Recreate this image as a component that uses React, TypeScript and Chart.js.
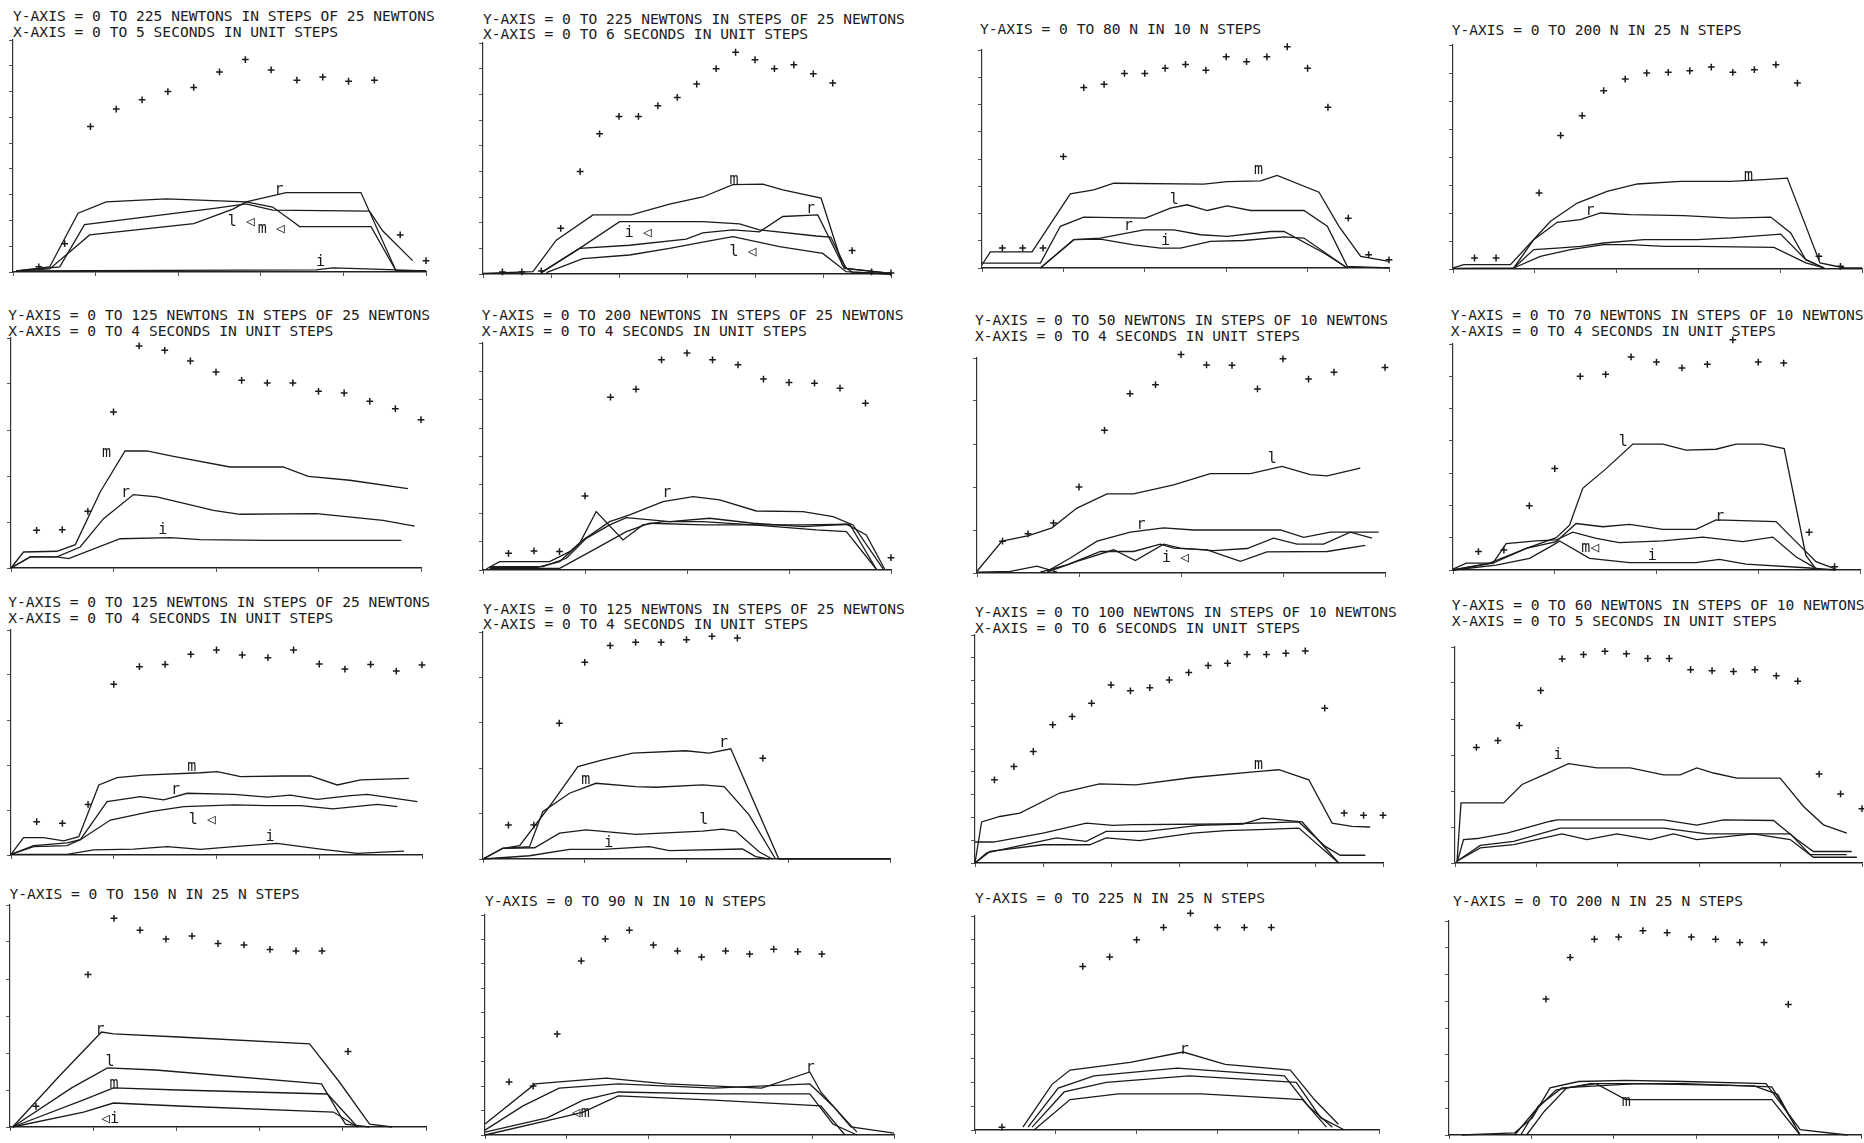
import React, { useEffect, useRef } from "react";
import { Chart, registerables } from "chart.js";
Chart.register(...registerables);

type Pt = [number, number];
type Lbl = { x: number; y: number; text: string };

// x values are sample intervals of the force trace (F "+" marks); y values in newtons.

// ---------- Panel 1 ----------
const p1Title = ["Y-AXIS = 0 TO 225 NEWTONS IN STEPS OF 25 NEWTONS", "X-AXIS = 0 TO 5 SECONDS IN UNIT STEPS"];
const p1Force = [5, 27.5, 141, 158, 167, 175, 179, 194, 206, 196, 186, 189, 185, 186, 36, 11];
const p1M: Pt[] = [[0.13, 1], [1.42, 4.9], [2.52, 57], [3.61, 68], [5.94, 71], [9.03, 68], [10.06, 63], [10.84, 49], [11.1, 44], [13.87, 44], [14.84, 1], [16, 1]];
const p1L: Pt[] = [[0.13, 1], [1.81, 5], [2.77, 46], [7.87, 62], [9.03, 66], [10.06, 60], [13.81, 59], [14.32, 40], [15.48, 11]];
const p1R: Pt[] = [[0.13, 1], [1.42, 3], [2.97, 36], [7.0, 47], [8.52, 61], [9.03, 68], [10.58, 77], [13.48, 77], [14.84, 1], [16, 1]];
const p1I: Pt[] = [[0.13, 1], [11.74, 2], [12.39, 4], [13.68, 3], [16, 1]];
const p1Labels: Lbl[] = [{ x: 10.13, y: 79, text: "r" }, { x: 8.32, y: 48.6, text: "l ◁" }, { x: 9.48, y: 42, text: "m ◁" }, { x: 11.74, y: 9.7, text: "i" }];

// ---------- Panel 2 ----------
const p2Title = ["Y-AXIS = 0 TO 225 NEWTONS IN STEPS OF 25 NEWTONS", "X-AXIS = 0 TO 6 SECONDS IN UNIT STEPS"];
const p2Force = [2, 2, 3, 44.5, 99.8, 136.5, 153.5, 153.5, 163.9, 172, 185, 200, 216, 208.7, 200, 203.8, 195, 186, 22.8, 2, 1];
const p2M: Pt[] = [[0, 0.5], [2.57, 2.3], [3.77, 33], [5.66, 57.5], [7.63, 57.5], [9.6, 68], [11.31, 75], [12.86, 87], [14.4, 87.5], [15.43, 82], [17.4, 74], [18.5, 9], [19.03, 1.3], [21, 0]];
const p2I: Pt[] = [[3, 1.3], [4.97, 25], [7.03, 51], [11.31, 51], [13.2, 48.8], [14.23, 43], [17.14, 37], [17.9, 36], [18.69, 5.5], [21, 0.7]];
const p2R: Pt[] = [[3, 1.3], [4.97, 25], [7.54, 28], [10.46, 34], [11.31, 40], [12.86, 43], [14.23, 41], [15.43, 56], [17.23, 57.5], [18.6, 5.5], [21, 0.7]];
const p2L: Pt[] = [[3.26, 1.3], [5.14, 15], [7.54, 18.5], [9.6, 25], [11.31, 31], [12.86, 36.4], [15.26, 26.7], [17.49, 20], [18.69, 2.3], [21, 0]];
const p2Labels: Lbl[] = [{ x: 12.69, y: 91.7, text: "m" }, { x: 7.29, y: 39.7, text: "i ◁" }, { x: 16.63, y: 63, text: "r" }, { x: 12.69, y: 21.8, text: "l ◁" }];

// ---------- Panel 3 ----------
const p3Title = ["Y-AXIS = 0 TO 80 N IN 10 N STEPS"];
const p3Force = [7.3, 7.3, 7.3, 40.9, 66.2, 67.4, 71.4, 71.4, 73.3, 74.7, 72.6, 77.5, 75.7, 77.5, 81.2, 73.3, 59, 18.3, 4.9, 3];
const p3M: Pt[] = [[0, 1.2], [0.41, 5.9], [2.46, 5.9], [4.34, 27.2], [5.49, 28.7], [6.48, 31.1], [10.9, 30.8], [12.05, 31.7], [13.69, 32], [14.5, 34], [16.56, 27.8], [17.54, 15.3], [18.61, 4.3], [20, 2.4]];
const p3L: Pt[] = [[0, 1.8], [2.87, 1.8], [3.85, 15.3], [5, 18.7], [8.03, 18.3], [9.26, 22], [10.08, 23.2], [11.07, 21.1], [12.05, 22.8], [13.2, 21.1], [15.82, 21.1], [16.97, 15.3], [17.95, 0.6], [20, 0]];
const p3R: Pt[] = [[2.87, 0], [4.51, 10.4], [5.82, 11], [7.95, 14], [9.43, 14], [10.74, 12.2], [12.05, 11.6], [14.18, 13.4], [14.84, 13.4], [16.8, 5.5], [17.95, 0]];
const p3I: Pt[] = [[2.87, 0], [4.51, 10.4], [5.82, 10.6], [7.46, 8.5], [8.77, 7.3], [9.75, 7.3], [11.23, 9.8], [12.87, 10.1], [14.84, 11.4], [15.82, 11], [17.95, 0]];
const p3Labels: Lbl[] = [{ x: 13.36, y: 35.8, text: "m" }, { x: 9.23, y: 25, text: "l" }, { x: 6.97, y: 15.3, text: "r" }, { x: 8.8, y: 9.8, text: "i" }];

// ---------- Panel 4 ----------
const p4Title = ["Y-AXIS = 0 TO 200 N IN 25 N STEPS"];
const p4Force = [9.8, 9.8, null, 67.9, 119.3, 136.9, 159.2, 169.6, 175, 175.6, 177, 180.3, 175.6, 178, 182.4, 166, 11.3, 2.4];
const p4M: Pt[] = [[0, 0.9], [0.5, 3.9], [2.67, 3.9], [3.6, 23.2], [4.53, 42.6], [5.77, 58.9], [7.16, 69.3], [8.56, 75.9], [10.57, 78.3], [12.9, 78.3], [14.45, 79.8], [15.53, 81.2], [17.05, 5.4], [18.2, 0.9], [19, 0.9]];
const p4R: Pt[] = [[0, 0.5], [2.82, 0.9], [3.75, 26.2], [4.84, 41.7], [5.92, 44], [6.85, 50], [8.25, 48.5], [10.73, 47.6], [12.9, 45.5], [14.76, 46.4], [15.69, 32.1], [16.39, 8.3], [17.24, 0.9]];
const p4I: Pt[] = [[2.82, 0.9], [3.75, 17.3], [4.84, 18.7], [5.92, 20.2], [7.01, 23.2], [8.87, 26.2], [11.35, 26.2], [12.9, 27.7], [15.22, 31.2], [16.39, 8.3], [17.24, 0.9]];
const p4L: Pt[] = [[2.82, 0.9], [4.06, 11.3], [5.46, 17.3], [7.01, 21.7], [8.25, 21.7], [9.8, 20.2], [11.35, 20.2], [14.91, 19.3], [16.39, 5.4], [17.24, 0.9]];
const p4Labels: Lbl[] = [{ x: 13.52, y: 82.7, text: "m" }, { x: 6.16, y: 51.5, text: "r" }];

// ---------- Panel 5 ----------
const p5Title = ["Y-AXIS = 0 TO 125 NEWTONS IN STEPS OF 25 NEWTONS", "X-AXIS = 0 TO 4 SECONDS IN UNIT STEPS"];
const p5Force = [20.5, 20.8, 30.8, 84.8, 120.7, 118.3, 112.5, 106.5, 102, 100.6, 100.6, 96, 95.1, 90.6, 86.6, 80.6];
const p5M: Pt[] = [[0, 0], [0.49, 8.7], [1.79, 9.1], [2.51, 12.7], [3.48, 41.3], [4.45, 63.6], [5.3, 63.6], [6.34, 60.7], [8.55, 54.9], [10.62, 54.9], [11.6, 49.8], [13.22, 47.7], [15.49, 43.1]];
const p5R: Pt[] = [[0, 0], [0.75, 6], [1.79, 6], [2.7, 11.4], [3.61, 26.8], [4.78, 39.9], [5.69, 38.6], [7.9, 31.3], [8.94, 29.2], [11.92, 29.5], [14.52, 25.9], [15.75, 22.8]];
const p5I: Pt[] = [[0, 0], [0.75, 6], [1.79, 6], [2.25, 5.1], [4.26, 15.9], [6.21, 16.5], [7.38, 15.4], [9.97, 15], [15.23, 15]];
const p5Labels: Lbl[] = [{ x: 3.55, y: 62.7, text: "m" }, { x: 4.29, y: 40.8, text: "r" }, { x: 5.75, y: 20.5, text: "i" }];

// ---------- Panel 6 ----------
const p6Title = ["Y-AXIS = 0 TO 200 NEWTONS IN STEPS OF 25 NEWTONS", "X-AXIS = 0 TO 4 SECONDS IN UNIT STEPS"];
const p6Force = [14.7, 16.8, 16.2, 65.3, 152.3, 159.3, 185.2, 191.1, 185.2, 180.8, 168.2, 165.2, 164.6, 160.2, 147, 10.9];
const p6R: Pt[] = [[0.13, 0.9], [0.65, 7.4], [2.61, 7.4], [3.4, 16.2], [3.92, 26.5], [4.97, 42.6], [5.75, 48.5], [7.06, 60.3], [8.24, 64.7], [9.28, 61.7], [10.72, 52], [12.55, 51.5], [13.73, 47], [14.51, 39.7], [15.69, 0.9]];
const p6A: Pt[] = [[0.26, 2.1], [2.09, 2.1], [3.01, 7.4], [3.79, 23.5], [4.44, 51.5], [5.49, 26.5], [6.27, 39.7], [7.06, 42.6], [8.63, 42.6], [10.59, 39.7], [12.55, 39.7], [14.38, 40.3], [15.42, 0.9]];
const p6B: Pt[] = [[0.26, 2.9], [2.35, 2.9], [3.27, 10.3], [4.05, 27.9], [4.97, 39.7], [5.62, 46.2], [7.32, 42.6], [8.89, 45.6], [10.59, 41.2], [12.55, 38.2], [14.25, 40.3], [15.03, 30.9], [15.75, 0.9]];
const p6C: Pt[] = [[0.26, 1.5], [3.01, 1.5], [4.44, 19.1], [5.62, 33.8], [6.54, 41.2], [8.63, 39.7], [10.59, 39.7], [13.07, 35.3], [14.25, 33.8], [15.42, 0.9]];
const p6Labels: Lbl[] = [{ x: 7.03, y: 67.6, text: "r" }];

// ---------- Panel 7 ----------
const p7Title = ["Y-AXIS = 0 TO 50 NEWTONS IN STEPS OF 10 NEWTONS", "X-AXIS = 0 TO 4 SECONDS IN UNIT STEPS"];
const p7Force = [7.4, 9.1, 11.6, 20, 33.2, 41.7, 43.8, 50.8, 48.4, 48.3, 42.8, 49.8, 45.1, 46.7, 51.3, 47.8];
const p7L: Pt[] = [[0, 0.4], [0.98, 7.4], [2.03, 8.7], [2.94, 10.5], [3.92, 15.1], [5.1, 18.4], [6.14, 18.4], [7.71, 20.5], [9.15, 23.1], [10.72, 23.1], [11.96, 24.8], [13.07, 22.9], [13.73, 22.6], [15.03, 24.4]];
const p7R: Pt[] = [[2.75, 0.4], [3.66, 3.5], [4.71, 7.4], [6.01, 9.5], [7.32, 10.5], [8.5, 10], [11.9, 10], [12.81, 8.3], [13.86, 9.5], [15.75, 9.5]];
const p7B: Pt[] = [[2.75, 0.2], [3.92, 2.7], [5.36, 5.4], [6.21, 2.9], [7.32, 6.7], [7.97, 5.8], [9.28, 5.2], [10.59, 5.7], [11.63, 8.1], [12.55, 6.7], [13.59, 6.7], [14.64, 9.5], [15.49, 8.1]];
const p7I: Pt[] = [[2.48, 0.2], [3.53, 1.9], [4.84, 5], [6.14, 5], [7.19, 6.7], [7.71, 5.8], [9.02, 5.4], [10.33, 2.7], [11.37, 4.9], [13.73, 5], [15.23, 6.4]];
const p7D: Pt[] = [[0, 0.2], [1.31, 0.4], [2.35, 1.6], [3.14, 0.2]];
const p7Labels: Lbl[] = [{ x: 11.4, y: 26.4, text: "l" }, { x: 6.25, y: 11.2, text: "r" }, { x: 7.25, y: 3.5, text: "i ◁" }];

// ---------- Panel 8 ----------
const p8Title = ["Y-AXIS = 0 TO 70 NEWTONS IN STEPS OF 10 NEWTONS", "X-AXIS = 0 TO 4 SECONDS IN UNIT STEPS"];
const p8Force = [5.7, 6.2, 19.9, 31.4, 60, 60.6, 66, 64.4, 62.6, 63.7, 71.3, 64.4, 64.1, 11.7, 1];
const p8L: Pt[] = [[0, 0], [1.57, 2.1], [2.88, 6.7], [4.06, 10], [4.58, 13.9], [5.1, 25.3], [6.02, 31.4], [7.07, 39], [8.25, 39], [9.16, 37.1], [10.34, 37.4], [11.13, 39], [12.17, 39], [13.02, 37.6], [13.87, 4.6], [14.27, 0.3]];
const p8R: Pt[] = [[0, 0], [1.44, 2.1], [2.88, 6.7], [4.06, 8.8], [4.84, 14.4], [5.89, 13.4], [6.94, 14.1], [8.25, 12.6], [9.55, 12.6], [10.34, 15.5], [12.7, 15], [13.48, 8.8], [14.27, 2.6], [15.05, 0.3]];
const p8M: Pt[] = [[0, 0.3], [0.52, 2.1], [1.57, 2.1], [2.09, 8.2], [3.27, 9], [4.06, 9.3], [4.71, 11.7], [5.63, 9.8], [6.54, 8.5], [8.25, 9], [9.82, 10.2], [11.39, 8.8], [12.57, 10.2], [13.48, 4.1], [14.27, 0.5]];
const p8I: Pt[] = [[0, 0], [1.7, 1.5], [3.01, 3.6], [3.93, 7.7], [4.19, 9], [5.37, 3.6], [6.94, 2.3], [9.55, 2.3], [10.47, 3.3], [11.52, 1.8], [13.87, 0.7], [15.05, 0]];
const p8Labels: Lbl[] = [{ x: 6.52, y: 39.7, text: "l" }, { x: 10.31, y: 16.5, text: "r" }, { x: 5.04, y: 6.7, text: "m◁" }, { x: 7.66, y: 4.4, text: "i" }];

// ---------- Panel 9 ----------
const p9Title = ["Y-AXIS = 0 TO 125 NEWTONS IN STEPS OF 25 NEWTONS", "X-AXIS = 0 TO 4 SECONDS IN UNIT STEPS"];
const p9Force = [18.5, 17.6, 28.1, 94.8, 104.6, 105.9, 111.5, 113.9, 111.1, 109.6, 113.9, 106.1, 103.3, 105.9, 102.2, 105.6];
const p9M: Pt[] = [[0, 0.4], [0.49, 9.6], [1.27, 9.6], [2.05, 7.8], [2.64, 10.2], [3.42, 38.9], [4.13, 43], [5.17, 44.4], [7.38, 45.7], [8.03, 46.3], [8.94, 43.5], [10.62, 43.9], [11.66, 43.9], [12.7, 38.9], [13.61, 41.7], [15.49, 42.6]];
const p9R: Pt[] = [[0, 0.4], [0.88, 5.2], [2.18, 6.7], [2.7, 8.5], [3.74, 29.6], [5.04, 32.4], [5.95, 30.6], [6.86, 34.3], [8.68, 33.7], [9.97, 32.2], [10.88, 33.3], [11.92, 30.9], [13.22, 33], [13.87, 33.7], [15.82, 29.6]];
const p9L: Pt[] = [[0, 0.4], [0.88, 4.6], [2.18, 5.2], [2.7, 8.5], [3.87, 19.4], [5.43, 24.1], [6.73, 26.9], [8.68, 27.8], [9.97, 27.4], [11.27, 27.4], [12.53, 25.6], [14.26, 28.1], [15.04, 26.9]];
const p9I: Pt[] = [[0, 0.4], [2.18, 0.4], [3.22, 2.8], [4.78, 3.3], [6.08, 4.6], [7.38, 3.1], [8.68, 4.6], [10.36, 6.5], [12.05, 3.3], [13.48, 0.9], [15.3, 2.2]];
const p9Labels: Lbl[] = [{ x: 6.86, y: 49, text: "m" }, { x: 6.23, y: 36.1, text: "r" }, { x: 6.92, y: 19.4, text: "l ◁" }, { x: 9.91, y: 10.2, text: "i" }];

// ---------- Panel 10 ----------
const p10Title = ["Y-AXIS = 0 TO 125 NEWTONS IN STEPS OF 25 NEWTONS", "X-AXIS = 0 TO 4 SECONDS IN UNIT STEPS"];
const p10Force = [18.7, 18.7, 74.8, 108.3, 117.5, 119.3, 119.3, 120.8, 122.6, 121.7, 55.5];
const p10R: Pt[] = [[0, 0], [0.78, 5.9], [1.44, 7.4], [2.61, 28.9], [3.73, 50.9], [4.71, 54.6], [5.88, 58.3], [7.97, 59.6], [8.89, 58.3], [9.74, 60.7], [11.63, 0], [16, 0]];
const p10M: Pt[] = [[0, 0], [0.78, 5.9], [1.83, 6.8], [2.35, 26.1], [3.4, 36.2], [4.44, 41.7], [6.01, 39.9], [6.8, 39.5], [8.63, 40.8], [9.48, 39.9], [10.46, 24.3], [11.5, 0]];
const p10L: Pt[] = [[0, 0], [0.78, 5.9], [2.03, 6.2], [3.01, 14.2], [4.05, 16], [6.01, 13.6], [8.63, 15.4], [9.41, 16.5], [9.93, 15.4], [10.85, 4], [11.37, 0]];
const p10I: Pt[] = [[0, 0], [1.83, 1.8], [3.4, 5.3], [4.71, 5.3], [6.54, 6.8], [7.32, 4.6], [10.2, 5.5], [10.72, 1.3], [11.24, 0]];
const p10Labels: Lbl[] = [{ x: 9.28, y: 63.8, text: "r" }, { x: 3.86, y: 43.6, text: "m" }, { x: 8.5, y: 21.5, text: "l" }, { x: 4.77, y: 8.6, text: "i" }];

// ---------- Panel 11 ----------
const p11Title = ["Y-AXIS = 0 TO 100 NEWTONS IN STEPS OF 10 NEWTONS", "X-AXIS = 0 TO 6 SECONDS IN UNIT STEPS"];
const p11Force = [36.5, 42.3, 48.9, 60.6, 64.2, 70.1, 78.1, 75.5, 76.9, 80.3, 83.5, 86.6, 87.6, 91.5, 91.5, 92, 93, 67.9, 21.9, 20.9, 20.9];
const p11M: Pt[] = [[0, 0], [0.34, 18], [1.28, 20.4], [2.31, 21.9], [4.36, 30.7], [6.41, 34.7], [8.29, 34.3], [11.2, 37.5], [14.62, 40.2], [15.64, 40.9], [17.18, 36.5], [18.38, 17.5], [19.4, 16.1], [20.34, 15.8]];
const p11A: Pt[] = [[0, 9.2], [0.94, 9.2], [3.5, 13.1], [5.73, 17.5], [7.09, 16.5], [8.12, 16.8], [12.91, 17.1], [16.67, 18], [18.03, 7.3], [18.8, 3.4], [20.09, 3.4]];
const p11B: Pt[] = [[0, 0], [0.6, 4.4], [2.99, 8.8], [4.19, 11], [5.73, 9.5], [6.75, 13.9], [8.8, 13.9], [11.54, 16.5], [13.76, 17.1], [14.79, 19.7], [16.84, 18], [18.72, 0]];
const p11C: Pt[] = [[0, 0], [0.77, 5.1], [3.5, 8], [5.9, 8], [6.75, 11], [8.46, 9.8], [11.2, 13.1], [12.91, 14.2], [14.62, 14.6], [16.67, 15.3], [18.72, 0]];
const p11Labels: Lbl[] = [{ x: 14.36, y: 43.1, text: "m" }];

// ---------- Panel 12 ----------
const p12Title = ["Y-AXIS = 0 TO 60 NEWTONS IN STEPS OF 10 NEWTONS", "X-AXIS = 0 TO 5 SECONDS IN UNIT STEPS"];
const p12Force = [32.1, 34, 38.2, 47.9, 56.7, 57.9, 58.8, 58.1, 56.8, 56.8, 53.7, 53.4, 53.2, 53.7, 52, 50.5, 24.7, 19.2, 15.1];
const p12I: Pt[] = [[0.09, 0], [0.28, 16.7], [2.27, 16.7], [3.13, 21.8], [4.14, 24.5], [5.3, 27.6], [6.63, 26.4], [8.18, 26.4], [9.74, 24.5], [10.51, 24.5], [11.29, 26.4], [12.07, 25], [13.16, 23.6], [15.18, 23.6], [16.27, 15.7], [17.2, 10.6], [18.29, 8.3]];
const p12A: Pt[] = [[0.09, 0], [0.4, 6.5], [1.03, 6.8], [2.43, 8.3], [4.45, 11.6], [4.76, 12], [9.74, 12], [11.29, 10.5], [12.53, 12], [14.87, 11.8], [15.96, 6.5], [16.73, 3.2], [18.52, 3.2]];
const p12B: Pt[] = [[0.09, 0.5], [1.18, 4.9], [2.74, 6], [4.91, 9.7], [9.74, 9.7], [11.76, 8.1], [15.65, 8.1], [16.58, 2.3], [18.29, 2.3]];
const p12C: Pt[] = [[0.09, 0.5], [1.18, 4.2], [2.74, 5.1], [4.99, 8.1], [6.16, 6.5], [7.56, 8.1], [9.11, 6.5], [10.2, 8.1], [11.29, 6.5], [13.93, 8.1], [15.65, 6.5], [16.73, 1.6], [18.76, 1.6]];
const p12Labels: Lbl[] = [{ x: 4.6, y: 30.1, text: "i" }];

// ---------- Panel 13 ----------
const p13Title = ["Y-AXIS = 0 TO 150 N IN 25 N STEPS"];
const p13Force = [14, null, 103, 141, 133, 127, 129, 124, 123, 120, 119, 119, 51];
const p13R: Pt[] = [[0.1, 0], [1.9, 34.5], [3.52, 64.2], [3.98, 62.9], [6.48, 60.8], [11.52, 56.1], [12.67, 30.4], [13.83, 2], [14.7, 0]];
const p13L: Pt[] = [[0.1, 0], [2.37, 26.4], [3.75, 39.9], [5.6, 38.5], [11.98, 29.1], [12.9, 2], [13.83, 0]];
const p13M: Pt[] = [[0.1, 0], [2.83, 18.3], [3.98, 26.4], [6.48, 25], [12.21, 22.3], [13.37, 0]];
const p13I: Pt[] = [[0.1, 0], [2.83, 10.1], [3.98, 16.2], [6.48, 14.2], [12.44, 10.1], [13.37, 0]];
const p13Labels: Lbl[] = [{ x: 3.29, y: 65.6, text: "r" }, { x: 3.67, y: 44, text: "l" }, { x: 3.83, y: 29, text: "m" }, { x: 3.5, y: 5, text: "◁i" }];

// ---------- Panel 14 ----------
const p14Title = ["Y-AXIS = 0 TO 90 N IN 10 N STEPS"];
const p14Force = [21.7, 20, 41.3, 71.2, 80.2, 83.8, 77.7, 75.3, 72.8, 75.3, 74, 76, 75, 74];
const p14R: Pt[] = [[0, 4.5], [2.08, 20.9], [3.08, 21.7], [5.04, 23.3], [7.54, 20.9], [11.5, 19.2], [13.5, 25.8], [13.96, 17.6], [15.21, 3.3], [17, 0.8]];
const p14A: Pt[] = [[0, 2], [1.58, 11.9], [3.08, 19.2], [5.54, 20.9], [9.5, 19.2], [13.5, 20.9], [14.46, 11.9], [15.46, 1.2]];
const p14B: Pt[] = [[0, 1.2], [2.58, 7], [4.08, 14.3], [5.54, 17.6], [9.5, 16.8], [13.5, 16.8], [14.46, 4.5], [15.46, 0]];
const p14M: Pt[] = [[0, 0], [3.08, 7], [4.08, 9.4], [5.54, 16], [9.5, 14.3], [13.96, 11.9], [14.96, 0]];
const p14Labels: Lbl[] = [{ x: 13.33, y: 27.5, text: "r" }, { x: 3.6, y: 9, text: "◁m" }];

// ---------- Panel 15 ----------
const p15Title = ["Y-AXIS = 0 TO 225 N IN 25 N STEPS"];
const p15Force = [3, null, null, 172, 182, 200, 213, 228, 213, 213, 213];
const p15R: Pt[] = [[1.78, 3], [2.86, 48], [3.53, 63], [5.76, 71], [7.73, 82], [9.29, 69], [11.71, 63], [12.6, 32], [13.49, 6]];
const p15A: Pt[] = [[1.97, 3], [3.09, 44], [4.42, 57], [7.51, 65], [11.49, 57], [12.38, 25], [13.27, 3]];
const p15B: Pt[] = [[2.12, 3], [3.31, 40], [4.87, 50], [7.96, 57], [11.93, 50], [12.83, 13], [13.72, 0]];
const p15C: Pt[] = [[2.19, 0], [3.53, 32], [5.32, 38], [8.4, 38], [12.16, 32], [13.05, 3]];
const p15Labels: Lbl[] = [{ x: 7.6, y: 84, text: "r" }];

// ---------- Panel 16 ----------
const p16Title = ["Y-AXIS = 0 TO 200 N IN 25 N STEPS"];
const p16Force = [null, null, null, 127, 166, 183, 185, 191, 189, 185, 183, 180, 180, 122];
const p16A: Pt[] = [[0.53, 0], [2.71, 2], [3.44, 16], [4.17, 44], [5.34, 50], [7.29, 51], [9.68, 50], [13.08, 48], [13.77, 27], [14.49, 5], [16.44, 0]];
const p16B: Pt[] = [[2.71, 0], [3.52, 22], [4.41, 42], [5.83, 48], [9.68, 48], [13.32, 45], [14.25, 10]];
const p16C: Pt[] = [[2.96, 0], [3.68, 27], [4.66, 44], [7.77, 48], [12.59, 46], [13.56, 38], [14.49, 0]];
const p16M: Pt[] = [[3.2, 0], [3.93, 22], [4.86, 44], [6.07, 48], [7.29, 33], [13.32, 33], [14.49, 0]];
const p16Labels: Lbl[] = [{ x: 7.13, y: 31, text: "m" }];

type PanelDef = {
  title: string[]; yMax: number; yStep: number; n: number; secs: number;
  force: (number | null)[]; lines: Pt[][]; labels: Lbl[];
  box: { x0: number; xR: number; yT: number; yB: number; tTop: number; tLeft: number };
};

const panels: PanelDef[] = [
  { title: p1Title, yMax: 225, yStep: 25, n: 16, secs: 5, force: p1Force, lines: [p1M, p1L, p1R, p1I], labels: p1Labels, box: { x0: 13.3, xR: 426.7, yT: 40, yB: 271.7, tTop: 8, tLeft: 13 } },
  { title: p2Title, yMax: 225, yStep: 25, n: 21, secs: 6, force: p2Force, lines: [p2M, p2I, p2R, p2L], labels: p2Labels, box: { x0: 483.3, xR: 891.7, yT: 43.3, yB: 274, tTop: 10.5, tLeft: 483 } },
  { title: p3Title, yMax: 80, yStep: 10, n: 20, secs: 5, force: p3Force, lines: [p3M, p3L, p3R, p3I], labels: p3Labels, box: { x0: 981.7, xR: 1388.3, yT: 50, yB: 268.3, tTop: 21, tLeft: 980 } },
  { title: p4Title, yMax: 200, yStep: 25, n: 19, secs: 5, force: p4Force, lines: [p4M, p4R, p4I, p4L], labels: p4Labels, box: { x0: 1452.7, xR: 1861.2, yT: 45.3, yB: 269.3, tTop: 21.5, tLeft: 1451.7 } },
  { title: p5Title, yMax: 125, yStep: 25, n: 16, secs: 4, force: p5Force, lines: [p5M, p5R, p5I], labels: p5Labels, box: { x0: 10.7, xR: 420.7, yT: 337.7, yB: 567.7, tTop: 307, tLeft: 8.3 } },
  { title: p6Title, yMax: 200, yStep: 25, n: 16, secs: 4, force: p6Force, lines: [p6R, p6A, p6B, p6C], labels: p6Labels, box: { x0: 483.3, xR: 891.7, yT: 343.3, yB: 570, tTop: 307, tLeft: 481.7 } },
  { title: p7Title, yMax: 50, yStep: 10, n: 16, secs: 4, force: p7Force, lines: [p7L, p7R, p7B, p7I, p7D], labels: p7Labels, box: { x0: 976.7, xR: 1384.7, yT: 358.3, yB: 573.3, tTop: 312, tLeft: 975 } },
  { title: p8Title, yMax: 70, yStep: 10, n: 16, secs: 4, force: p8Force, lines: [p8L, p8R, p8M, p8I], labels: p8Labels, box: { x0: 1453.3, xR: 1860, yT: 343.7, yB: 570, tTop: 307, tLeft: 1450.7 } },
  { title: p9Title, yMax: 125, yStep: 25, n: 16, secs: 4, force: p9Force, lines: [p9M, p9R, p9L, p9I], labels: p9Labels, box: { x0: 10.7, xR: 421.7, yT: 630, yB: 855, tTop: 594, tLeft: 8.3 } },
  { title: p10Title, yMax: 125, yStep: 25, n: 16, secs: 4, force: p10Force, lines: [p10R, p10M, p10L, p10I], labels: p10Labels, box: { x0: 483.3, xR: 890.7, yT: 632.3, yB: 859, tTop: 600.5, tLeft: 483 } },
  { title: p11Title, yMax: 100, yStep: 10, n: 21, secs: 6, force: p11Force, lines: [p11M, p11A, p11B, p11C], labels: p11Labels, box: { x0: 975, xR: 1382.7, yT: 635, yB: 863.3, tTop: 604, tLeft: 975 } },
  { title: p12Title, yMax: 60, yStep: 10, n: 19, secs: 5, force: p12Force, lines: [p12I, p12A, p12B, p12C], labels: p12Labels, box: { x0: 1454.7, xR: 1861.9, yT: 647.3, yB: 863.3, tTop: 597, tLeft: 1451.7 } },
  { title: p13Title, yMax: 150, yStep: 25, n: 16, secs: 5, force: p13Force, lines: [p13R, p13L, p13M, p13I], labels: p13Labels, box: { x0: 9.5, xR: 425.5, yT: 905, yB: 1127, tTop: 886, tLeft: 9.5 } },
  { title: p14Title, yMax: 90, yStep: 10, n: 17, secs: 5, force: p14Force, lines: [p14R, p14A, p14B, p14M], labels: p14Labels, box: { x0: 485, xR: 894, yT: 915, yB: 1135, tTop: 893, tLeft: 485 } },
  { title: p15Title, yMax: 225, yStep: 25, n: 15, secs: 5, force: p15Force, lines: [p15R, p15A, p15B, p15C], labels: p15Labels, box: { x0: 975, xR: 1379, yT: 916, yB: 1130, tTop: 890, tLeft: 975 } },
  { title: p16Title, yMax: 200, yStep: 25, n: 17, secs: 5, force: p16Force, lines: [p16A, p16B, p16C, p16M], labels: p16Labels, box: { x0: 1449, xR: 1861, yT: 921, yB: 1135, tTop: 893, tLeft: 1453 } },
];

const FONT = '"DejaVu Sans Mono", "Liberation Mono", monospace';
const INK = "#1b1b1b";
const PAD = 10;
const TICK = 4;

const labelPlugin = {
  id: "fingerLabels",
  afterDatasetsDraw(chart: any, _args: any, opts: any) {
    const items: Lbl[] = (opts && opts.items) || [];
    const { ctx } = chart;
    const xs = chart.scales.x;
    const ys = chart.scales.y;
    ctx.save();
    ctx.font = `15px ${FONT}`;
    ctx.fillStyle = INK;
    ctx.textAlign = "left";
    ctx.textBaseline = "middle";
    items.forEach((it) => {
      ctx.fillText(it.text, xs.getPixelForValue(it.x), ys.getPixelForValue(it.y));
    });
    ctx.restore();
  },
};

function Panel({ def }: { def: PanelDef }) {
  const ref = useRef<HTMLCanvasElement | null>(null);
  const { box } = def;
  const w = Math.round(box.xR - box.x0 + 2 * PAD);
  const h = Math.round(box.yB - box.yT + 2 * PAD);

  useEffect(() => {
    if (!ref.current) return;
    const forcePts = def.force
      .map((v, i) => (v == null ? null : { x: i + 1, y: v }))
      .filter((p) => p !== null);
    const lineSets = def.lines.map((ln) => ({
      data: ln.map(([x, y]) => ({ x, y })),
      showLine: true,
      borderColor: INK,
      borderWidth: 1.3,
      pointRadius: 0,
      tension: 0,
      fill: false,
      clip: false as any,
    }));
    const chart = new Chart(ref.current, {
      type: "scatter",
      data: {
        datasets: [
          ...lineSets,
          {
            data: forcePts as any,
            showLine: false,
            pointStyle: "cross",
            pointRadius: 3.4,
            borderColor: INK,
            borderWidth: 1.5,
            clip: false as any,
          },
        ] as any,
      },
      options: {
        responsive: false,
        animation: false,
        devicePixelRatio: 1,
        events: [],
        layout: { padding: { left: PAD - TICK, right: PAD, top: PAD, bottom: PAD - TICK } },
        plugins: {
          legend: { display: false },
          tooltip: { enabled: false },
          title: { display: false },
          fingerLabels: { items: def.labels },
        } as any,
        scales: {
          x: {
            type: "linear",
            min: 0,
            max: def.n,
            ticks: { display: false, stepSize: def.n / def.secs },
            grid: { display: true, drawOnChartArea: false, drawTicks: true, tickLength: TICK, color: "#555", lineWidth: 1 },
            border: { display: true, color: "#222", width: 1.4, dash: [26, 3] },
          },
          y: {
            type: "linear",
            min: 0,
            max: def.yMax,
            ticks: { display: false, stepSize: def.yStep },
            grid: { display: true, drawOnChartArea: false, drawTicks: true, tickLength: TICK, color: "#555", lineWidth: 1 },
            border: { display: true, color: "#333", width: 1.2, dash: [9, 5] },
          },
        },
      },
      plugins: [labelPlugin as any],
    });
    return () => chart.destroy();
  }, [def]);

  return (
    <>
      <div
        style={{
          position: "absolute",
          left: box.tLeft,
          top: box.tTop,
          fontFamily: FONT,
          fontSize: "14.6px",
          lineHeight: "15.5px",
          color: INK,
          whiteSpace: "pre",
        }}
      >
        {def.title.map((t, i) => (
          <div key={i}>{t}</div>
        ))}
      </div>
      <canvas
        ref={ref}
        width={w}
        height={h}
        style={{ position: "absolute", left: box.x0 - PAD, top: box.yT - PAD, width: w, height: h }}
      />
    </>
  );
}

export default function App() {
  return (
    <div
      style={{
        position: "fixed",
        left: 0,
        top: 0,
        width: 1864,
        height: 1143,
        background: "#ffffff",
        overflow: "hidden",
      }}
    >
      {panels.map((p, i) => (
        <Panel key={i} def={p} />
      ))}
    </div>
  );
}
